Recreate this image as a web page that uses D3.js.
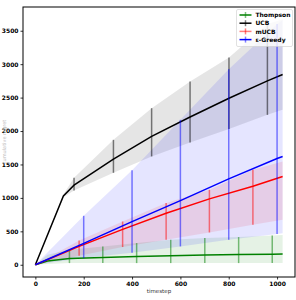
<!DOCTYPE html>
<html>
<head>
<meta charset="utf-8">
<script src="https://cdn.jsdelivr.net/npm/d3@7"></script>
<style>
  body { margin: 0; background: #fff; }
  svg { display: block; font-family: "DejaVu Sans", sans-serif; }
</style>
</head>
<body>
<script>
// Readings (timestep, mean, band low, band high)
const thompsonT    = [0, 50, 141, 279, 419, 560, 701, 841, 980, 1023];
const thompsonMean = [0, 55, 95, 110, 125, 135, 145, 152, 158, 160];
const thompsonLo   = [0, 10, 25, 25, 25, 25, 25, 25, 25, 25];
const thompsonHi   = [0, 150, 224, 274, 324, 374, 399, 414, 438, 445];
const thompsonBars = [141, 279, 419, 560, 701, 841, 980];

const ucbT    = [0, 116, 160, 323, 481, 640, 801, 960, 1023];
const ucbMean = [0, 1030, 1190, 1580, 1920, 2210, 2490, 2750, 2845];
const ucbLo   = [0, 1010, 1110, 1375, 1620, 1828, 2030, 2242, 2317];
const ucbHi   = [0, 1050, 1300, 1868, 2342, 2740, 3100, 3600, 3670];
const ucbBars = [160, 323, 481, 640, 801, 960];

const mucbT    = [0, 181, 361, 541, 720, 900, 1023];
const mucbMean = [0, 275, 530, 770, 985, 1175, 1320];
const mucbLo   = [0, 135, 265, 374, 483, 598, 673];
const mucbHi   = [0, 363, 647, 922, 1121, 1420, 1544];
const mucbBars = [181, 361, 541, 720, 900];

const egT    = [0, 200, 400, 600, 800, 1000, 1023];
const egMean = [0, 320, 645, 960, 1285, 1590, 1620];
const egLo   = [0, 100, 180, 274, 374, 459, 470];
const egHi   = [0, 732, 1415, 2167, 2925, 3600, 3660];
const egBars = [200, 400, 600, 800, 1000];

const xTicks = [0, 200, 400, 600, 800, 1000];
const yTicks = [0, 500, 1000, 1500, 2000, 2500, 3000, 3500];

const series = [
  { name: "Thompson", color: "green", t: thompsonT, mean: thompsonMean, lo: thompsonLo, hi: thompsonHi, bars: thompsonBars },
  { name: "UCB", color: "black", t: ucbT, mean: ucbMean, lo: ucbLo, hi: ucbHi, bars: ucbBars },
  { name: "mUCB", color: "red", t: mucbT, mean: mucbMean, lo: mucbLo, hi: mucbHi, bars: mucbBars },
  { name: "\u03b5-Greedy", color: "blue", t: egT, mean: egMean, lo: egLo, hi: egHi, bars: egBars }
];

const W = 296, H = 300;
const plot = { left: 23, right: 295, top: 7, bottom: 277 };

const svg = d3.select("body").append("svg")
  .attr("width", W)
  .attr("height", H);

const x = d3.scaleLinear().domain([-51.15, 1074.15]).range([plot.left, plot.right]);
const y = d3.scaleLinear().domain([-183, 3855]).range([plot.bottom, plot.top]);

// shaded bands first
series.forEach(s => {
  const pts = s.t.map((t, i) => ({ t, lo: s.lo[i], hi: s.hi[i] }));
  svg.append("path")
    .datum(pts)
    .attr("fill", s.color)
    .attr("fill-opacity", 0.1)
    .attr("d", d3.area().x(d => x(d.t)).y0(d => y(d.lo)).y1(d => y(d.hi)));
});

// mean lines + error bars
series.forEach(s => {
  const pts = s.t.map((t, i) => ({ t, v: s.mean[i] }));
  svg.append("path")
    .datum(pts)
    .attr("fill", "none")
    .attr("stroke", s.color)
    .attr("stroke-width", 1.5)
    .attr("d", d3.line().x(d => x(d.t)).y(d => y(d.v)));

  const bars = s.bars.map(b => {
    const i = s.t.indexOf(b);
    return { t: b, lo: s.lo[i], hi: s.hi[i] };
  });
  svg.selectAll(null)
    .data(bars)
    .enter()
    .append("line")
    .attr("x1", d => x(d.t)).attr("x2", d => x(d.t))
    .attr("y1", d => y(d.lo)).attr("y2", d => y(d.hi))
    .attr("stroke", s.color)
    .attr("stroke-opacity", 0.5)
    .attr("stroke-width", 1.5);
});

// axes
const xAxis = svg.append("g")
  .attr("transform", `translate(0,${plot.bottom})`)
  .call(d3.axisBottom(x).tickValues(xTicks).tickFormat(d3.format("d"))
    .tickSize(2.5).tickPadding(2).tickSizeOuter(0));
const yAxis = svg.append("g")
  .attr("transform", `translate(${plot.left},0)`)
  .call(d3.axisLeft(y).tickValues(yTicks).tickFormat(d3.format("d"))
    .tickSize(2.5).tickPadding(2).tickSizeOuter(0));

[xAxis, yAxis].forEach(g => {
  g.select(".domain").remove();
  g.selectAll("line").attr("stroke", "#000").attr("stroke-width", 0.8);
  g.selectAll("text")
    .style("font-family", "DejaVu Sans, sans-serif")
    .style("font-size", "6px")
    .style("font-weight", "bold")
    .attr("fill", "#000");
});

// frame
svg.append("rect")
  .attr("x", plot.left).attr("y", plot.top)
  .attr("width", plot.right - plot.left).attr("height", plot.bottom - plot.top)
  .attr("fill", "none").attr("stroke", "#000").attr("stroke-width", 1);

// axis labels
svg.append("text")
  .attr("x", (plot.left + plot.right) / 2)
  .attr("y", 293)
  .attr("text-anchor", "middle")
  .style("font-size", "5.5px")
  .attr("fill", "#333")
  .text("timestep");

svg.append("text")
  .attr("transform", `translate(5.5,${(plot.top + plot.bottom) / 2}) rotate(-90)`)
  .attr("text-anchor", "middle")
  .style("font-size", "5px")
  .attr("fill", "#bbb")
  .text("cumulative regret");

// legend
const lg = svg.append("g").attr("transform", "translate(236.5,9.5)");
lg.append("rect")
  .attr("width", 56).attr("height", 37).attr("rx", 1.5)
  .attr("fill", "#fff").attr("fill-opacity", 0.8)
  .attr("stroke", "#ccc").attr("stroke-width", 0.6);

series.forEach((s, i) => {
  const row = lg.append("g").attr("transform", `translate(0,${5.5 + i * 8.2})`);
  const op = s.name === "mUCB" ? 0.5 : 1;
  row.append("line")
    .attr("x1", 3).attr("x2", 15).attr("y1", 0).attr("y2", 0)
    .attr("stroke", s.color).attr("stroke-width", 1.5).attr("stroke-opacity", op);
  row.append("line")
    .attr("x1", 9).attr("x2", 9).attr("y1", -3).attr("y2", 3)
    .attr("stroke", s.color).attr("stroke-width", 1.5).attr("stroke-opacity", 0.5);
  row.append("text")
    .attr("x", 19).attr("y", 2.2)
    .style("font-size", "6px")
    .style("font-weight", "bold")
    .text(s.name);
});
</script>
</body>
</html>
